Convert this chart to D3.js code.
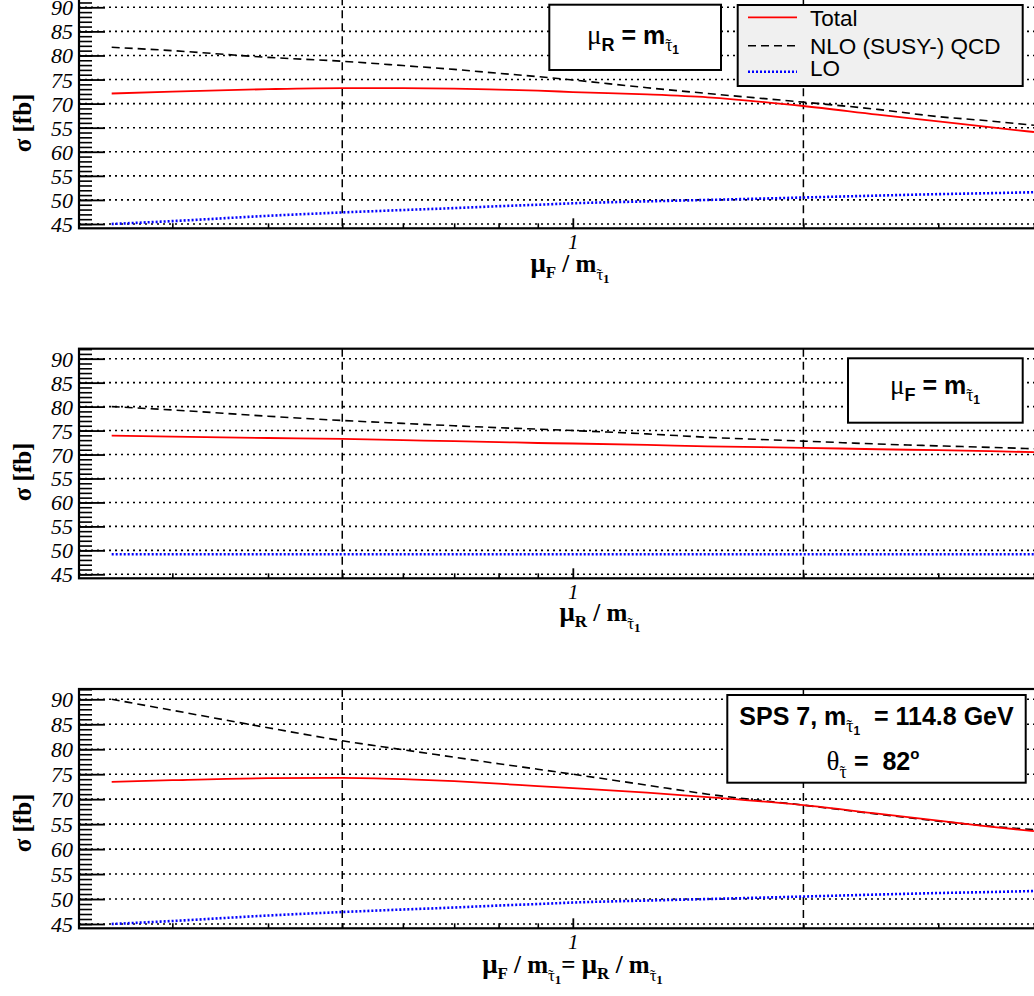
<!DOCTYPE html>
<html><head><meta charset="utf-8">
<script src="https://cdn.jsdelivr.net/npm/d3@7"></script>
<style>body{margin:0;background:#fff}svg{display:block}text{white-space:pre}</style>
</head><body>
<script>
// ---------------- data ----------------
const muValues = [0.25,0.3,0.4,0.5,0.6,0.7,0.8,0.9,1,1.25,1.5,2,2.5,3,3.5,4];

// panel 1: mu_R = m, vary mu_F
const total1 = [72.1,72.5,73.0,73.2,73.2,73.1,72.9,72.7,72.4,71.9,71.3,69.5,67.7,66.3,65.1,64.1];
const nlo1   = [81.7,81.0,79.6,78.8,77.9,77.1,76.3,75.6,74.9,73.3,72.1,70.3,68.8,67.3,66.4,65.5];
const lo1    = [45.0,45.6,46.7,47.4,47.9,48.3,48.7,49.0,49.3,49.7,50.0,50.5,50.9,51.2,51.4,51.6];

// panel 2: mu_F = m, vary mu_R
const total2 = [73.95,73.75,73.45,73.25,73.0,72.8,72.6,72.4,72.3,72.0,71.7,71.4,71.1,70.9,70.7,70.5];
const nlo2   = [80.0,79.3,78.0,77.1,76.5,76.0,75.6,75.3,75.0,74.3,73.6,72.8,72.2,71.8,71.5,71.2];
const lo2    = [49.2,49.2,49.2,49.2,49.2,49.2,49.2,49.2,49.2,49.2,49.2,49.2,49.2,49.2,49.2,49.2];

// panel 3: mu_F = mu_R vary together
const total3 = [73.45,73.8,74.2,74.25,74.0,73.6,73.1,72.6,72.2,71.3,70.4,68.8,67.1,65.7,64.5,63.6];
const nlo3   = [90.0,87.8,84.3,81.7,79.9,78.4,77.1,76.0,75.0,72.8,71.0,68.8,67.0,65.6,64.6,63.9];
const lo3    = [45.0,45.6,46.7,47.4,47.9,48.3,48.7,49.0,49.3,49.7,50.0,50.5,50.9,51.2,51.4,51.6];

const yMajorTicks = [45,50,55,60,65,70,75,80,85,90];
const yTickLabels = ["45","50","55","60","55","70","75","80","85","90"];
const yMinorTicks = d3.range(45, 93, 1);
const xMinorTicks = [0.3,0.4,0.5,0.6,0.7,0.8,0.9,2,3,4];
const xMajorTicks = [1];
const xTickLabels = ["1"];
const refLines = [0.5, 2];
const legendLabels = ["Total","NLO (SUSY-) QCD","LO"];

// ---------------- layout ----------------
const W = 1034, H = 996;
const SERIF = "'Liberation Serif', 'Times New Roman', serif";
const SANS = "'Liberation Sans', Arial, sans-serif";
const svg = d3.select("body").append("svg").attr("width", W).attr("height", H);
const x = d3.scaleLog().domain([0.2266, 4.378]).range([79, 1064]);

const panels = [
  {y90: 7.3, y45: 224, top: -2.7, bottom: 228.3, total: total1, nlo: nlo1, lo: lo1, ytc: 123, xtBase: 272,
   title: "F", titleX: 570},
  {y90: 358.7, y45: 574.3, top: 348.7, bottom: 578.3, total: total2, nlo: nlo2, lo: lo2, ytc: 472, xtBase: 621,
   title: "R", titleX: 600},
  {y90: 699.3, y45: 924, top: 689, bottom: 928.3, total: total3, nlo: nlo3, lo: lo3, ytc: 823, xtBase: 973,
   title: "FR", titleX: 572.5}
];

function rich(g, xx, yy, parts, anchor) {
  const t = g.append("text").attr("x", xx).attr("y", yy).attr("text-anchor", anchor || "middle");
  parts.forEach(p => {
    const s = t.append("tspan").text(p.t)
      .attr("font-family", p.f === "serif" ? SERIF : SANS)
      .attr("font-size", p.s)
      .attr("font-weight", p.w || "normal");
    if (p.dy) s.attr("dy", p.dy);
    if (p.dx) s.attr("dx", p.dx);
  });
  return t;
}

// subscript tau-tilde-1: tilde drawn as a separate small glyph over the tau
function tauSub(sT, s1, f1, w1, dyIn, dy1) {
  return [
    {t: "τ", f: "serif", s: sT, dy: dyIn},
    {t: "˜", f: "serif", s: sT * 0.9, dx: -0.39 * sT, dy: -0.05 * sT},
    {t: "1", f: f1, s: s1, w: w1, dx: 0.08 * sT, dy: 0.05 * sT + dy1}
  ];
}

function box(g, x0, y0, x1, y1, fill) {
  g.append("rect").attr("x", x0).attr("y", y0).attr("width", x1 - x0).attr("height", y1 - y0)
    .attr("fill", fill || "#fff").attr("stroke", "#000").attr("stroke-width", 2);
}

panels.forEach((p) => {
  const g = svg.append("g");
  const y = d3.scaleLinear().domain([45, 90]).range([p.y45, p.y90]);

  // grid
  g.selectAll(".grid").data(yMajorTicks).enter().append("line")
    .attr("x1", 79).attr("x2", 1064).attr("y1", d => y(d)).attr("y2", d => y(d))
    .attr("stroke", "#000").attr("stroke-width", 1.6).attr("stroke-dasharray", "2,4");

  // reference vertical dashed lines
  g.selectAll(".ref").data(refLines).enter().append("line")
    .attr("x1", d => x(d)).attr("x2", d => x(d)).attr("y1", p.top).attr("y2", p.bottom)
    .attr("stroke", "#000").attr("stroke-width", 1.5).attr("stroke-dasharray", "8,5");

  const line = vals => d3.line().x((d, i) => x(muValues[i])).y(d => y(d)).curve(d3.curveMonotoneX)(vals);
  g.append("path").attr("d", line(p.lo)).attr("fill", "none").attr("stroke", "#0000ff")
    .attr("stroke-width", 2.6).attr("stroke-dasharray", "2,2");
  g.append("path").attr("d", line(p.nlo)).attr("fill", "none").attr("stroke", "#000")
    .attr("stroke-width", 1.6).attr("stroke-dasharray", "8,5");
  g.append("path").attr("d", line(p.total)).attr("fill", "none").attr("stroke", "#ff0000")
    .attr("stroke-width", 1.8);

  // axes
  const yMinor = d3.axisLeft(y).tickValues(yMinorTicks.filter(v => y(v) >= p.top)).tickSize(-13).tickFormat("").tickSizeOuter(0);
  const ga = g.append("g").attr("transform", "translate(79,0)").call(yMinor);
  ga.select(".domain").remove();
  ga.selectAll("line").attr("stroke", "#000").attr("stroke-width", 1.6);
  const yMajor = d3.axisLeft(y).tickValues(yMajorTicks).tickSize(-26).tickPadding(6)
    .tickFormat((d, i) => yTickLabels[i]).tickSizeOuter(0);
  const gb = g.append("g").attr("transform", "translate(79,0)").call(yMajor);
  gb.select(".domain").remove();
  gb.selectAll("line").attr("stroke", "#000").attr("stroke-width", 1.8);
  gb.selectAll("text").attr("font-family", SERIF).attr("font-style", "italic").attr("font-size", 22)
    .attr("fill", "#000").attr("dy", "0.34em");

  const xMinor = d3.axisBottom(x).tickValues(xMinorTicks).tickSize(-5).tickFormat("").tickSizeOuter(0);
  const gc = g.append("g").attr("transform", `translate(0,${p.bottom})`).call(xMinor);
  gc.select(".domain").remove();
  gc.selectAll("line").attr("stroke", "#000").attr("stroke-width", 1.6);
  const xMajor = d3.axisBottom(x).tickValues(xMajorTicks).tickSize(-10).tickPadding(6)
    .tickFormat((d, i) => xTickLabels[i]).tickSizeOuter(0);
  const gd = g.append("g").attr("transform", `translate(0,${p.bottom})`).call(xMajor);
  gd.select(".domain").remove();
  gd.selectAll("line").attr("stroke", "#000").attr("stroke-width", 1.8);
  gd.selectAll("text").attr("font-family", SERIF).attr("font-style", "italic").attr("font-size", 21)
    .attr("fill", "#000");

  // frame
  g.append("rect").attr("x", 79).attr("y", p.top).attr("width", 1064 - 79).attr("height", p.bottom - p.top)
    .attr("fill", "none").attr("stroke", "#000").attr("stroke-width", 2.2);

  // y title
  g.append("text").attr("transform", `translate(31,${p.ytc}) rotate(-90)`).attr("text-anchor", "middle")
    .attr("font-family", SERIF).attr("font-weight", "bold").attr("font-size", 25).text("σ [fb]");

  // x title
  const mu = (sub) => [
    {t: "μ", f: "serif", s: 27, w: "bold"},
    {t: sub, f: "serif", s: 17, w: "bold", dy: 6},
    {t: " / m", f: "serif", s: 25, w: "bold", dy: -6}
  ].concat(tauSub(17, 13, "serif", "bold", 8, 3));
  let parts;
  if (p.title === "FR") {
    parts = mu("F").concat([{t: "= ", f: "serif", s: 25, w: "bold", dy: -11}]).concat(mu("R"));
  } else parts = mu(p.title);
  rich(g, p.titleX, p.xtBase, parts);
});

// ---------- panel annotations ----------
const ann = svg.append("g");
// panel 1 box
box(ann, 549.3, 4.7, 721, 70);
rich(ann, 633, 43.5, [
  {t: "μ", f: "serif", s: 27},
  {t: "R", f: "sans", s: 18, w: "bold", dy: 7},
  {t: " = m", f: "sans", s: 25, w: "bold", dy: -7}
].concat(tauSub(18, 12, "sans", "bold", 7, 3)));
// legend
box(ann, 737.7, 5, 1022.7, 86, "#f0f0f0");
const legY = [17.3, 45.7, 71.7];
const legBase = [26, 53.5, 76];
ann.append("line").attr("x1", 748).attr("x2", 797).attr("y1", legY[0]).attr("y2", legY[0])
  .attr("stroke", "#ff0000").attr("stroke-width", 1.8);
ann.append("line").attr("x1", 748).attr("x2", 797).attr("y1", legY[1]).attr("y2", legY[1])
  .attr("stroke", "#000").attr("stroke-width", 1.6).attr("stroke-dasharray", "8,5");
ann.append("line").attr("x1", 748).attr("x2", 797).attr("y1", legY[2]).attr("y2", legY[2])
  .attr("stroke", "#0000ff").attr("stroke-width", 2.6).attr("stroke-dasharray", "2,2");
legendLabels.forEach((l, i) => {
  ann.append("text").attr("x", 810).attr("y", legBase[i]).attr("font-family", SANS)
    .attr("font-size", 22.5).text(l);
});

// panel 2 box
box(ann, 848, 358.3, 1022.7, 422.7);
rich(ann, 935, 393.5, [
  {t: "μ", f: "serif", s: 27},
  {t: "F", f: "sans", s: 18, w: "bold", dy: 7},
  {t: " = m", f: "sans", s: 25, w: "bold", dy: -7}
].concat(tauSub(18, 12, "sans", "bold", 7, 3)));

// panel 3 box
box(ann, 727.3, 695, 1025.7, 782.7);
rich(ann, 876.5, 725, [
  {t: "SPS 7, m", f: "sans", s: 25, w: "bold"}
].concat(tauSub(18, 12, "sans", "bold", 7, 3)).concat([
  {t: "  = 114.8 GeV", f: "sans", s: 25, w: "bold", dy: -10}
]));
rich(ann, 873, 770, [
  {t: "θ", f: "serif", s: 27},
  {t: "τ", f: "serif", s: 18, dy: 8},
  {t: "˜", f: "serif", s: 16, dx: -7, dy: -1},
  {t: " =  82", f: "sans", s: 25, w: "bold", dx: 2, dy: -7},
  {t: "o", f: "sans", s: 15, w: "bold", dy: -11}
]);
</script>
</body></html>
